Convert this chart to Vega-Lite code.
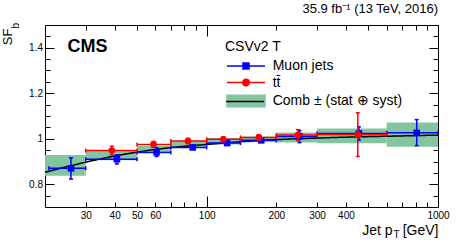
{
  "$schema": "https://vega.github.io/schema/vega-lite/v6.json",
  "width": 393,
  "height": 182,
  "autosize": {"type": "none"},
  "padding": {"left": 45, "top": 25, "right": 19, "bottom": 38},
  "background": "white",
  "title": {"text": "35.9 fb⁻¹ (13 TeV, 2016)", "anchor": "end", "font": "Liberation Sans", "fontSize": 13, "fontWeight": "normal", "color": "black", "offset": 6, "frame": "group"},
  "datasets": {
    "comb": [
      {"sample": "Comb ± (stat ⊕ syst)", "lo": 20, "hi": 30, "ylo": 0.837, "yhi": 0.929},
      {"sample": "Comb ± (stat ⊕ syst)", "lo": 30, "hi": 50, "ylo": 0.905, "yhi": 0.946},
      {"sample": "Comb ± (stat ⊕ syst)", "lo": 50, "hi": 70, "ylo": 0.937, "yhi": 0.968},
      {"sample": "Comb ± (stat ⊕ syst)", "lo": 70, "hi": 100, "ylo": 0.960, "yhi": 0.990},
      {"sample": "Comb ± (stat ⊕ syst)", "lo": 100, "hi": 140, "ylo": 0.975, "yhi": 1.003},
      {"sample": "Comb ± (stat ⊕ syst)", "lo": 140, "hi": 200, "ylo": 0.985, "yhi": 1.010},
      {"sample": "Comb ± (stat ⊕ syst)", "lo": 200, "hi": 300, "ylo": 0.983, "yhi": 1.027},
      {"sample": "Comb ± (stat ⊕ syst)", "lo": 300, "hi": 600, "ylo": 0.980, "yhi": 1.045},
      {"sample": "Comb ± (stat ⊕ syst)", "lo": 600, "hi": 1000, "ylo": 0.965, "yhi": 1.071}
    ],
    "fit": [
      {"x": 20, "y": 0.853}, {"x": 25, "y": 0.878}, {"x": 30, "y": 0.897}, {"x": 40, "y": 0.924},
      {"x": 50, "y": 0.941}, {"x": 60, "y": 0.953}, {"x": 70, "y": 0.961}, {"x": 85, "y": 0.969},
      {"x": 100, "y": 0.975}, {"x": 125, "y": 0.983}, {"x": 150, "y": 0.989}, {"x": 200, "y": 0.996},
      {"x": 300, "y": 1.003}, {"x": 400, "y": 1.007}, {"x": 600, "y": 1.011}, {"x": 1000, "y": 1.016}
    ],
    "pts": [
      {"sample": "Muon jets", "x": 25.9, "xlo": 20.8, "xhi": 30, "y": 0.870, "ylo": 0.823, "yhi": 0.916},
      {"sample": "Muon jets", "x": 40.9, "xlo": 30, "xhi": 50, "y": 0.910, "ylo": 0.889, "yhi": 0.929},
      {"sample": "Muon jets", "x": 60.7, "xlo": 50, "xhi": 70, "y": 0.940, "ylo": 0.922, "yhi": 0.960},
      {"sample": "Muon jets", "x": 87, "xlo": 70, "xhi": 100, "y": 0.962, "ylo": 0.952, "yhi": 0.972},
      {"sample": "Muon jets", "x": 122.6, "xlo": 100, "xhi": 140, "y": 0.981, "ylo": 0.973, "yhi": 0.989},
      {"sample": "Muon jets", "x": 172, "xlo": 140, "xhi": 200, "y": 0.993, "ylo": 0.985, "yhi": 1.001},
      {"sample": "Muon jets", "x": 252, "xlo": 200, "xhi": 300, "y": 1.010, "ylo": 0.983, "yhi": 1.036},
      {"sample": "Muon jets", "x": 455, "xlo": 300, "xhi": 600, "y": 1.023, "ylo": 0.994, "yhi": 1.052},
      {"sample": "Muon jets", "x": 809, "xlo": 600, "xhi": 1000, "y": 1.026, "ylo": 0.970, "yhi": 1.084},
      {"sample": "tt̄", "x": 38.9, "xlo": 30, "xhi": 50, "y": 0.948, "ylo": 0.929, "yhi": 0.967},
      {"sample": "tt̄", "x": 58.9, "xlo": 50, "xhi": 70, "y": 0.975, "ylo": 0.962, "yhi": 0.988},
      {"sample": "tt̄", "x": 83, "xlo": 70, "xhi": 100, "y": 0.990, "ylo": 0.978, "yhi": 1.002},
      {"sample": "tt̄", "x": 118, "xlo": 100, "xhi": 140, "y": 0.998, "ylo": 0.988, "yhi": 1.008},
      {"sample": "tt̄", "x": 168, "xlo": 140, "xhi": 200, "y": 1.006, "ylo": 0.995, "yhi": 1.017},
      {"sample": "tt̄", "x": 248, "xlo": 200, "xhi": 300, "y": 1.016, "ylo": 0.992, "yhi": 1.040},
      {"sample": "tt̄", "x": 450, "xlo": 300, "xhi": 600, "y": 1.019, "ylo": 0.922, "yhi": 1.114}
    ]
  },
  "config": {
    "view": {"stroke": "black", "strokeWidth": 1},
    "axis": {"grid": false, "domain": false, "tickColor": "black", "tickWidth": 1, "labelFont": "Liberation Sans", "titleFont": "Liberation Sans", "labelColor": "black", "titleColor": "black", "titleFontWeight": "normal", "zindex": 1}
  },
  "resolve": {"axis": {"x": "independent", "y": "independent"}},
  "layer": [
    {
      "data": {"name": "comb"},
      "mark": {"type": "rect", "opacity": 1},
      "encoding": {
        "x": {"field": "lo", "type": "quantitative", "scale": {"type": "log", "domain": [20, 1000], "nice": false},
          "axis": {"orient": "bottom", "values": [30, 40, 50, 60, 70, 80, 90, 100, 200, 300, 400, 500, 600, 700, 800, 900, 1000], "tickSize": -5, "labelExpr": "indexof([30,40,50,60,100,200,300,400,1000], datum.value) >= 0 ? format(datum.value, 'd') : ''", "labelFontSize": 10, "labelPadding": 8, "labelFlush": false, "title": "Jet p", "titleFontSize": 14, "titleX": 347, "titleY": 27, "titleAlign": "right", "titleBaseline": "alphabetic"}},
        "x2": {"field": "hi"},
        "y": {"field": "ylo", "type": "quantitative", "scale": {"domain": [0.7, 1.5], "nice": false, "zero": false},
          "axis": {"orient": "left", "values": [0.75, 0.8, 0.85, 0.9, 0.95, 1, 1.05, 1.1, 1.15, 1.2, 1.25, 1.3, 1.35, 1.4, 1.45], "tickSize": -5, "labelExpr": "indexof([0.8,1,1.2,1.4], datum.value) >= 0 ? format(datum.value, '~g') : ''", "labelFontSize": 10, "labelPadding": 7.5, "title": "SF", "titleFontSize": 13, "titleAngle": -90, "titleX": -34, "titleY": 3, "titleAlign": "right", "titleBaseline": "alphabetic"}},
        "y2": {"field": "yhi"},
        "color": {"field": "sample", "type": "nominal",
          "scale": {"domain": ["Muon jets", "tt̄", "Comb ± (stat ⊕ syst)"], "range": ["#0000ff", "#ff0000", "#82c59f"]},
          "legend": {"title": "CSVv2 T", "orient": "none", "legendX": 180, "legendY": 15, "padding": 0, "titleFont": "Liberation Sans", "titleFontSize": 14, "titleFontWeight": "normal", "titleColor": "black", "titlePadding": 5, "labelFont": "Liberation Sans", "labelFontSize": 14, "labelColor": "black", "labelOffset": 33.7, "symbolSize": 100, "symbolStrokeWidth": 1.5, "symbolOpacity": 1, "rowPadding": 2.5}}
      }
    },
    {
      "data": {"name": "fit"},
      "mark": {"type": "line", "color": "black", "strokeWidth": 1.5, "interpolate": "monotone"},
      "encoding": {
        "x": {"field": "x", "type": "quantitative", "axis": {"orient": "top", "values": [30, 40, 50, 60, 70, 80, 90, 100, 200, 300, 400, 500, 600, 700, 800, 900, 1000], "tickSize": -5, "labels": false, "title": "CMS", "titleFontSize": 18, "titleFontWeight": "bold", "titleX": 22, "titleY": 26.7, "titleAlign": "left", "titleBaseline": "alphabetic"}},
        "y": {"field": "y", "type": "quantitative", "axis": {"orient": "right", "values": [0.75, 0.8, 0.85, 0.9, 0.95, 1, 1.05, 1.1, 1.15, 1.2, 1.25, 1.3, 1.35, 1.4, 1.45], "tickSize": -5, "labels": false, "title": null}},
        "strokeDash": {"datum": "fit", "scale": {"domain": ["fit"], "range": [[1, 0]]},
          "legend": {"title": null, "orient": "none", "legendX": 180, "legendY": 70.5, "padding": 0, "labelExpr": "''", "symbolType": "M-1,0H6.6", "symbolSize": 100, "symbolStrokeWidth": 1.5, "symbolStrokeColor": "black", "symbolFillColor": "black"}}
      }
    },
    {
      "data": {"name": "comb"},
      "mark": {"type": "point", "filled": true, "opacity": 0},
      "encoding": {
        "x": {"field": "lo", "type": "quantitative", "axis": null},
        "y": {"field": "ylo", "type": "quantitative", "axis": null},
        "color": {"field": "sample", "type": "nominal"},
        "shape": {"field": "sample", "type": "nominal",
          "scale": {"domain": ["Muon jets", "tt̄", "Comb ± (stat ⊕ syst)"], "range": ["M-1,0H6.6M2.2,-0.6H3.4V0.6H2.2Z", "M-1,0H6.6M3.45,0A0.65,0.65,0,1,1,2.15,0A0.65,0.65,0,1,1,3.45,0Z", "M-1,-1.14H6.6V1.14H-1Z"]}}
      }
    },
    {
      "data": {"name": "pts"},
      "transform": [{"filter": "datum.sample == 'Muon jets'"}],
      "mark": {"type": "rule", "strokeWidth": 1.5},
      "encoding": {
        "x": {"field": "xlo", "type": "quantitative", "axis": {"orient": "bottom", "values": [100, 1000], "tickSize": -11, "labels": false, "title": "T", "titleFontSize": 10, "titleX": 348, "titleY": 30, "titleAlign": "left", "titleBaseline": "alphabetic"}},
        "x2": {"field": "xhi"},
        "y": {"field": "y", "type": "quantitative", "axis": {"orient": "left", "values": [0.8, 1, 1.2, 1.4], "tickSize": -9, "labels": false, "title": "b", "titleFontSize": 10, "titleAngle": -90, "titleX": -27, "titleY": 3, "titleAlign": "left", "titleBaseline": "alphabetic"}},
        "color": {"field": "sample", "type": "nominal"}
      }
    },
    {
      "data": {"name": "pts"},
      "transform": [{"filter": "datum.sample == 'Muon jets'"}],
      "mark": {"type": "rule", "strokeWidth": 1.5},
      "encoding": {
        "x": {"field": "x", "type": "quantitative", "axis": {"orient": "top", "values": [100, 1000], "tickSize": -11, "labels": false, "title": "[GeV]", "titleFontSize": 14, "titleX": 393, "titleY": 209, "titleAlign": "right", "titleBaseline": "alphabetic"}},
        "y": {"field": "ylo", "type": "quantitative", "axis": {"orient": "right", "values": [0.8, 1, 1.2, 1.4], "tickSize": -9, "labels": false, "title": null}},
        "y2": {"field": "yhi"},
        "color": {"field": "sample", "type": "nominal"}
      }
    },
    {
      "data": {"name": "pts"},
      "transform": [{"filter": "datum.sample == 'Muon jets'"}, {"fold": ["xlo", "xhi"], "as": ["k", "v"]}],
      "mark": {"type": "tick", "orient": "vertical", "size": 4, "thickness": 1.5, "opacity": 1},
      "encoding": {
        "x": {"field": "v", "type": "quantitative", "axis": null},
        "y": {"field": "y", "type": "quantitative", "axis": null},
        "color": {"field": "sample", "type": "nominal"}
      }
    },
    {
      "data": {"name": "pts"},
      "transform": [{"filter": "datum.sample == 'Muon jets'"}, {"fold": ["ylo", "yhi"], "as": ["k", "v"]}],
      "mark": {"type": "tick", "orient": "horizontal", "size": 4, "thickness": 1.5, "opacity": 1},
      "encoding": {
        "x": {"field": "x", "type": "quantitative", "axis": null},
        "y": {"field": "v", "type": "quantitative", "axis": null},
        "color": {"field": "sample", "type": "nominal"}
      }
    },
    {
      "data": {"name": "pts"},
      "transform": [{"filter": "datum.sample == 'Muon jets'"}],
      "mark": {"type": "point", "shape": "square", "filled": true, "size": 44, "opacity": 1},
      "encoding": {
        "x": {"field": "x", "type": "quantitative", "axis": null},
        "y": {"field": "y", "type": "quantitative", "axis": null},
        "color": {"field": "sample", "type": "nominal"}
      }
    },
    {
      "data": {"name": "pts"},
      "transform": [{"filter": "datum.sample != 'Muon jets'"}],
      "mark": {"type": "rule", "strokeWidth": 1.5},
      "encoding": {
        "x": {"field": "xlo", "type": "quantitative", "axis": null},
        "x2": {"field": "xhi"},
        "y": {"field": "y", "type": "quantitative", "axis": null},
        "color": {"field": "sample", "type": "nominal"}
      }
    },
    {
      "data": {"name": "pts"},
      "transform": [{"filter": "datum.sample != 'Muon jets'"}],
      "mark": {"type": "rule", "strokeWidth": 1.5},
      "encoding": {
        "x": {"field": "x", "type": "quantitative", "axis": null},
        "y": {"field": "ylo", "type": "quantitative", "axis": null},
        "y2": {"field": "yhi"},
        "color": {"field": "sample", "type": "nominal"}
      }
    },
    {
      "data": {"name": "pts"},
      "transform": [{"filter": "datum.sample != 'Muon jets'"}, {"fold": ["xlo", "xhi"], "as": ["k", "v"]}],
      "mark": {"type": "tick", "orient": "vertical", "size": 4, "thickness": 1.5, "opacity": 1},
      "encoding": {
        "x": {"field": "v", "type": "quantitative", "axis": null},
        "y": {"field": "y", "type": "quantitative", "axis": null},
        "color": {"field": "sample", "type": "nominal"}
      }
    },
    {
      "data": {"name": "pts"},
      "transform": [{"filter": "datum.sample != 'Muon jets'"}, {"fold": ["ylo", "yhi"], "as": ["k", "v"]}],
      "mark": {"type": "tick", "orient": "horizontal", "size": 4, "thickness": 1.5, "opacity": 1},
      "encoding": {
        "x": {"field": "x", "type": "quantitative", "axis": null},
        "y": {"field": "v", "type": "quantitative", "axis": null},
        "color": {"field": "sample", "type": "nominal"}
      }
    },
    {
      "data": {"name": "pts"},
      "transform": [{"filter": "datum.sample != 'Muon jets'"}],
      "mark": {"type": "point", "shape": "circle", "filled": true, "size": 44, "opacity": 1},
      "encoding": {
        "x": {"field": "x", "type": "quantitative", "axis": null},
        "y": {"field": "y", "type": "quantitative", "axis": null},
        "color": {"field": "sample", "type": "nominal"}
      }
    }
  ]
}
